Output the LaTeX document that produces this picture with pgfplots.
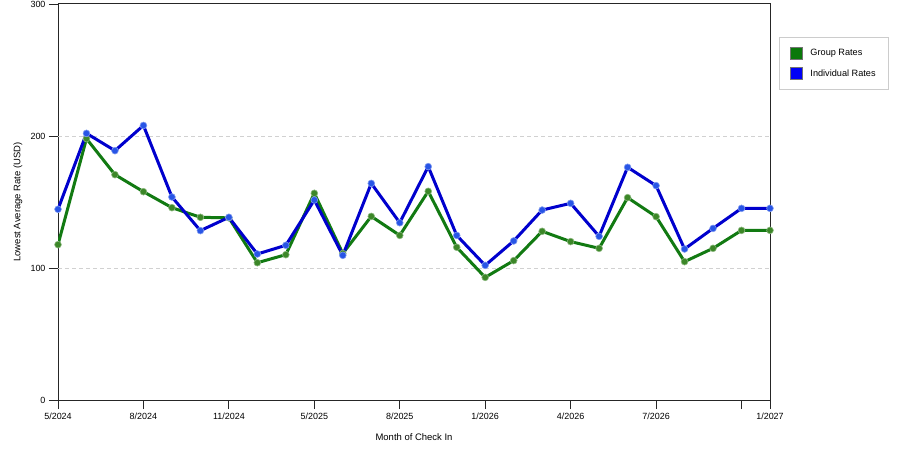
\documentclass[border=0pt]{standalone}
\usepackage{fontspec}
\setmainfont{Liberation Sans}
\usepackage{pgfplots}
\pgfplotsset{compat=1.18}
\definecolor{gline}{RGB}{18,122,18}
\definecolor{gmark}{RGB}{60,135,40}
\definecolor{bline}{RGB}{0,0,205}
\definecolor{bmark}{RGB}{40,85,230}
\definecolor{gsq}{RGB}{10,120,10}
\definecolor{bsq}{RGB}{0,0,245}
\begin{document}
\begin{tikzpicture}
\useasboundingbox (-58bp,-50bp) rectangle (842bp,400bp);
\begin{axis}[
  at={(0,0)}, anchor=south west,
  scale only axis, width=712bp, height=396bp,
  xmin=0, xmax=25, ymin=0, ymax=300,
  xtick={0,3,6,9,12,15,18,21,24,25},
  xticklabels={5/2024,8/2024,11/2024,5/2025,8/2025,1/2026,4/2026,7/2026,,1/2027},
  ytick={0,100,200,300},
  tick pos=left,
  tick align=outside,
  major tick length=9bp,
  tick style={black!85, line width=0.9bp},
  axis line style={black!85, line width=1bp},
  extra y ticks={100,200},
  extra y tick labels={},
  extra y tick style={grid=major, major grid style={dash pattern=on 4bp off 3bp, black!18, line width=0.8bp}},
  font=\fontsize{9}{11}\selectfont,
  /pgf/number format/assume math mode=true,
  xlabel={Month of Check In},
  ylabel={Lowest Average Rate (USD)},
  xlabel style={at={([yshift=-37bp]axis description cs:0.5,0)}, anchor=center, font=\fontsize{9.5}{11}\selectfont},
  ylabel style={at={([xshift=-40bp]axis description cs:0,0.5)}, anchor=center, font=\fontsize{9.5}{11}\selectfont},
  legend style={at={(axis description cs:1.0126,0.9167)}, anchor=north west,
    draw=black!20, line width=0.8bp, inner xsep=10.5bp, inner ysep=9.5bp,
    row sep=8bp, font=\fontsize{9.2}{11}\selectfont,
    /tikz/every odd column/.append style={column sep=6bp}},
  legend cell align=left,
]
\addplot[color=gline, line width=3bp, mark=*, mark size=3.4bp,
  mark options={fill=gmark, draw=gmark!60!white, line width=0.6bp},
  legend image code/.code={\filldraw[fill=gsq, draw=black!55, line width=0.6bp] (0bp,-6bp) rectangle (12bp,6bp);}]
coordinates {
(0,117.7) (1,198) (2,170.7) (3,157.8) (4,145.7) (5,138.4) (6,138) (7,104) (8,110.1) (9,156.6)
(10,111) (11,139.1) (12,124.7) (13,158.1) (14,115.7) (15,92.9) (16,105.6) (17,127.8) (18,120)
(19,114.9) (20,153.3) (21,138.9) (22,104.8) (23,114.9) (24,128.5) (25,128.5)
};
\addlegendentry{Group Rates}
\addplot[color=bline, line width=3bp, mark=*, mark size=3.4bp,
  mark options={fill=bmark, draw=bmark!60!white, line width=0.6bp},
  legend image code/.code={\filldraw[fill=bsq, draw=black!55, line width=0.6bp] (0bp,-6bp) rectangle (12bp,6bp);}]
coordinates {
(0,144.5) (1,202) (2,188.9) (3,208) (4,153.8) (5,128.3) (6,138.4) (7,110.6) (8,117.2) (9,151.5)
(10,109.6) (11,164.1) (12,134.3) (13,176.8) (14,124.7) (15,102) (16,120.5) (17,143.9) (18,149)
(19,124) (20,176.3) (21,162.4) (22,114.4) (23,130) (24,145.2) (25,145.2)
};
\addlegendentry{Individual Rates}
\end{axis}
\end{tikzpicture}
\end{document}
